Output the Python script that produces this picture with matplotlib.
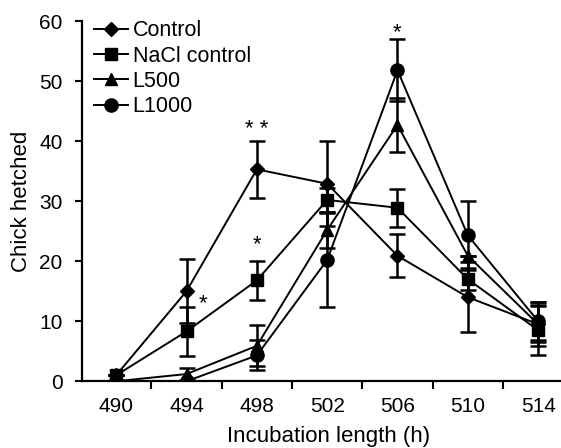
import matplotlib
matplotlib.use('Agg')
import matplotlib.pyplot as plt

plt.rcParams['font.family'] = ['Liberation Sans', 'DejaVu Sans']

hours = [490, 494, 498, 502, 506, 510, 514]
tick_pos = [492, 496, 500, 504, 508, 512]

control = [1.0, 15.0, 35.3, 32.9, 20.9, 14.0, 9.5]
control_err = [0.0, 5.3, 4.8, 7.1, 3.6, 5.8, 3.0]
nacl = [1.0, 8.3, 16.8, 30.2, 28.9, 17.0, 8.5]
nacl_err = [0.0, 4.1, 3.3, 2.0, 3.2, 1.8, 4.2]
l500 = [0.0, 1.2, 5.9, 25.2, 42.7, 20.9, 9.5]
l500_err = [0.0, 1.0, 3.4, 3.0, 4.5, 0.0, 3.7]
l1000 = [0.0, 0.0, 4.3, 20.2, 51.8, 24.3, 10.0]
l1000_err = [0.0, 0.0, 2.5, 7.8, 5.2, 5.7, 3.2]

# significance marks
stars_x = [494.95, 498, 498, 506]
stars_y = [13.0, 22.8, 42.0, 58.0]
stars_txt = ['*', '*', '* *', '*']

fig, ax = plt.subplots(figsize=(5.61, 4.48), dpi=100)
fig.subplots_adjust(left=0.146, right=1.0, top=0.953, bottom=0.149)

series = [
    ('Control', control, control_err, 'D', 7),
    ('NaCl control', nacl, nacl_err, 's', 9),
    ('L500', l500, l500_err, '^', 9),
    ('L1000', l1000, l1000_err, 'o', 9.5),
]
for label, vals, errs, mk, ms in series:
    ax.errorbar(hours, vals, yerr=errs, fmt='none', ecolor='black',
                elinewidth=1.8, capsize=5.5, capthick=1.8)
    ax.plot(hours, vals, color='black', marker=mk, markersize=ms,
            linewidth=1.4, label=label)

for x, y, t in zip(stars_x, stars_y, stars_txt):
    ax.text(x, y, t, ha='center', va='center', fontsize=16)

ax.set_xlim(488.05, 515.3)
ax.set_ylim(0, 60)
ax.set_yticks([0, 10, 20, 30, 40, 50, 60])
ax.set_xticks(tick_pos)
ax.set_xticklabels([])
ax.set_xticks(hours, minor=True)
ax.set_xticklabels([str(h) for h in hours], minor=True)
ax.tick_params(axis='x', which='major', length=6, width=1.5, direction='out')
ax.tick_params(axis='x', which='minor', length=0, pad=11, labelsize=15)
ax.tick_params(axis='y', length=5, width=1.5, labelsize=15, pad=9)

for s in ['top', 'right']:
    ax.spines[s].set_visible(False)
for s in ['left', 'bottom']:
    ax.spines[s].set_linewidth(1.6)

ax.set_ylabel('Chick hetched', fontsize=16, labelpad=5)
ax.set_xlabel('Incubation length (h)', fontsize=16)
ax.xaxis.set_label_coords(0.515, -0.124)

ax.legend(loc='upper left', bbox_to_anchor=(-0.002, 1.038), frameon=False, fontsize=15.5,
          handlelength=1.6, handletextpad=0.2, labelspacing=0.2, borderaxespad=0.2)

fig.savefig('out.png', dpi=100)
